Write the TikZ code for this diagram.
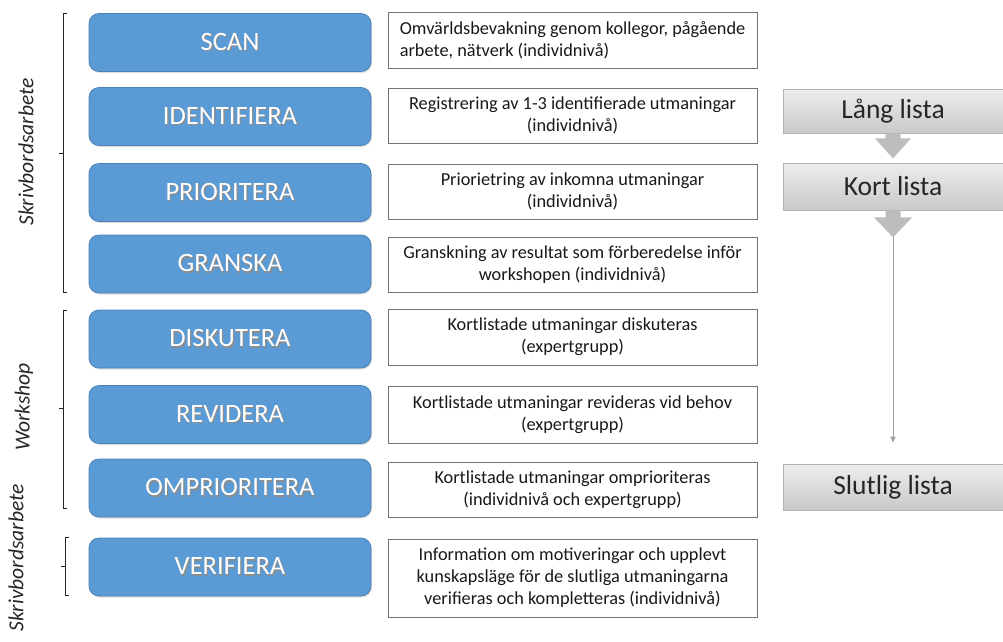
\documentclass[tikz,border=0pt]{standalone}
\usepackage{fontspec}
\setmainfont{Carlito}
\usetikzlibrary{calc,shadows,arrows.meta}
\definecolor{boxblue}{HTML}{5B9BD5}
\definecolor{boxblueborder}{HTML}{4A82B8}
\definecolor{graytop}{HTML}{EDEDED}
\definecolor{graybot}{HTML}{C9C9C9}
\definecolor{grayborder}{HTML}{B4B4B4}
\definecolor{arrowgray}{HTML}{BDBDBD}
\definecolor{linegray}{HTML}{A0A0A0}
\newcommand{\shtext}[1]{\makebox[0pt][l]{\raisebox{-1.2pt}{\hspace{1.2pt}\textcolor{black!45}{#1}}}#1}
\tikzset{
  stepblue/.style={draw=boxblueborder, line width=0.8pt, fill=boxblue, rounded corners=10pt,
    minimum width=282pt, minimum height=58pt, text=white, font=\fontsize{26.5}{31}\selectfont,
    drop shadow={shadow xshift=1pt, shadow yshift=-1.5pt, opacity=0.25}},
  descbox/.style={draw=black!55, line width=0.8pt, fill=white, minimum width=369pt,
    align=center, font=\fontsize{18.3}{22}\selectfont, inner sep=2pt, text=black!90},
  listbox/.style={draw=grayborder, line width=0.8pt, top color=graytop, bottom color=graybot,
    minimum width=220pt, font=\fontsize{27.5}{32}\selectfont, text=black!85},
  blockarrow/.style={fill=arrowgray, draw=none},
  bracketline/.style={draw=black!85, line width=0.8pt},
  sidelabel/.style={font=\itshape\fontsize{21.5}{25}\selectfont, rotate=90, text=black!85},
}
\begin{document}
\begin{tikzpicture}[x=1pt,y=-1pt]
\useasboundingbox (0,0) rectangle (1003,641);

% blue steps
\node[stepblue] (scan) at (230,42.5) {\shtext{SCAN}};
\node[stepblue] (ident) at (230,116.5) {\shtext{IDENTIFIERA}};
\node[stepblue] (prio) at (230,192.5) {\shtext{PRIORITERA}};
\node[stepblue] (gran) at (230,264) {\shtext{GRANSKA}};
\node[stepblue] (disk) at (230,339) {\shtext{DISKUTERA}};
\node[stepblue] (rev) at (230,414.5) {\shtext{REVIDERA}};
\node[stepblue] (omp) at (230,488) {\shtext{OMPRIORITERA}};
\node[stepblue] (ver) at (230,567) {\shtext{VERIFIERA}};

% descriptions
\node[descbox, minimum height=56pt, align=left] (d1) at (572.5,40) {Omvärldsbevakning genom kollegor, pågående\\arbete, nätverk (individnivå)};
\node[descbox, minimum height=55pt] (d2) at (572.5,115.5) {Registrering av 1-3 identifierade utmaningar\\(individnivå)};
\node[descbox, minimum height=55pt] (d3) at (572.5,191.5) {Priorietring av inkomna utmaningar\\(individnivå)};
\node[descbox, minimum height=55pt] (d4) at (572.5,264.5) {Granskning av resultat som förberedelse inför\\workshopen (individnivå)};
\node[descbox, minimum height=56pt] (d5) at (572.5,337) {Kortlistade utmaningar diskuteras\\(expertgrupp)};
\node[descbox, minimum height=57pt] (d6) at (572.5,414.5) {Kortlistade utmaningar revideras vid behov\\(expertgrupp)};
\node[descbox, minimum height=55pt] (d7) at (572.5,489.5) {Kortlistade utmaningar omprioriteras\\(individnivå och expertgrupp)};
\node[descbox, minimum height=78pt] (d8) at (572.5,578) {Information om motiveringar och upplevt\\kunskapsläge för de slutliga utmaningarna\\verifieras och kompletteras (individnivå)};

% lists
\node[listbox, minimum height=44pt] (lang) at (893,111) {Lång lista};
\node[listbox, minimum height=47pt] (kort) at (893,186.5) {Kort lista};
\node[listbox, minimum height=46pt] (slut) at (893,487) {Slutlig lista};

% block arrows
\fill[blockarrow] ($(lang.south)+(-7.5,0)$) -- ($(lang.south)+(7.5,0)$) -- ($(lang.south)+(7.5,5)$)
  -- ($(lang.south)+(18,5)$) -- ($(lang.south)+(0,25)$) -- ($(lang.south)+(-18,5)$)
  -- ($(lang.south)+(-7.5,5)$) -- cycle;
\coordinate (k2tip) at ($(kort.south)+(0,27)$);
\fill[blockarrow] ($(kort.south)+(-7.5,0)$) -- ($(kort.south)+(7.5,0)$) -- ($(kort.south)+(7.5,7)$)
  -- ($(kort.south)+(19,7)$) -- (k2tip) -- ($(kort.south)+(-19,7)$)
  -- ($(kort.south)+(-7.5,7)$) -- cycle;
\coordinate (lineend) at ($(slut.north)+(0,-21)$);
\draw[linegray, line width=1pt, -{Triangle[length=6pt,width=5pt]}] (k2tip) -- (lineend);

% brackets
\coordinate (b1t) at (63,13);
\coordinate (b1b) at (63,292);
\coordinate (b1m) at (63,153);
\draw[bracketline] ($(b1t)+(4,0)$) -- (b1t) -- (b1b) -- ($(b1b)+(4,0)$);
\draw[bracketline] (b1m) -- ($(b1m)+(-4,0)$);
\coordinate (b2t) at (63,310);
\coordinate (b2b) at (63,508);
\coordinate (b2m) at (63,408);
\draw[bracketline] ($(b2t)+(4,0)$) -- (b2t) -- (b2b) -- ($(b2b)+(4,0)$);
\draw[bracketline] (b2m) -- ($(b2m)+(-4,0)$);
\coordinate (b3t) at (65,537);
\coordinate (b3b) at (65,595);
\coordinate (b3m) at (65,566);
\draw[bracketline] ($(b3t)+(4,0)$) -- (b3t) -- (b3b) -- ($(b3b)+(4,0)$);
\draw[bracketline] (b3m) -- ($(b3m)+(-4,0)$);

% side labels
\node[sidelabel] (lab1) at (26,152) {Skrivbordsarbete};
\node[sidelabel] (lab2) at (24,407) {Workshop};
\node[sidelabel] (lab3) at (16,558) {Skrivbordsarbete};
\end{tikzpicture}
\end{document}
